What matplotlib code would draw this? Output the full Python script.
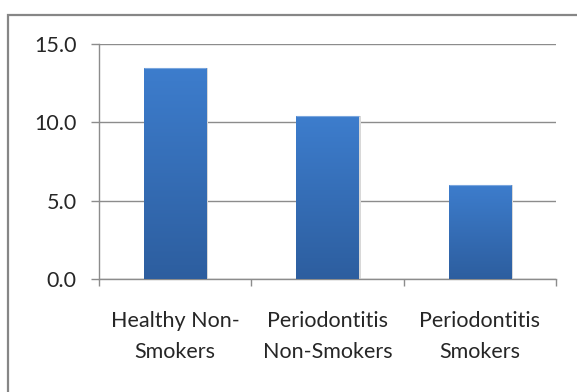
import matplotlib
matplotlib.use("Agg")
import matplotlib.pyplot as plt
import numpy as np
from matplotlib.patches import Rectangle
from matplotlib.colors import LinearSegmentedColormap

categories = ["Healthy Non-\nSmokers", "Periodontitis\nNon-Smokers", "Periodontitis\nSmokers"]
values = [13.5, 10.4, 6.0]
yticks = [0, 5, 10, 15]
ytick_labels = ["0.0", "5.0", "10.0", "15.0"]

plt.rcParams['font.family'] = ['Lato', 'DejaVu Sans']

fig = plt.figure(figsize=(5.77, 3.92), dpi=100)
fig.patch.set_facecolor('white')

# outer border (chart area)
fig.patches.append(Rectangle((8/577, -0.05), 1.2, 1 - 15/392 + 0.05,
                             transform=fig.transFigure, fill=False,
                             edgecolor='#868686', linewidth=1.6))

ax = fig.add_axes([99/577, 1 - 279/392, 457/577, 235/392])
x = np.arange(len(categories))
bars = ax.bar(x, values, width=0.41, color='#3b78c6', zorder=3)

cmap = LinearSegmentedColormap.from_list('g', ['#2d5e9f', '#3d7dcd'])
grad = np.linspace(0, 1, 256).reshape(-1, 1)
for b in bars:
    x0, w, h = b.get_x(), b.get_width(), b.get_height()
    im = ax.imshow(grad, extent=[x0, x0 + w, 0, h], origin='lower', cmap=cmap,
                   aspect='auto', zorder=4)
    im.set_clip_path(b)
    # soft shadow
    ax.add_patch(Rectangle((x0 + w, 0), 0.012, h, facecolor='#d8d8d8',
                           edgecolor='none', zorder=2))
    ax.add_patch(Rectangle((x0, h), w, 0.0, edgecolor='#7aa6de', linewidth=0.8,
                           fill=False, zorder=5))

ax.set_xlim(-0.5, len(categories) - 0.5)
ax.set_ylim(0, 15)
ax.set_yticks(yticks)
ax.set_yticklabels(ytick_labels)
ax.set_xticks(x)
ax.set_xticklabels(categories, linespacing=1.7)
ax.set_xticks(np.arange(len(categories) + 1) - 0.5, minor=True)

ax.yaxis.grid(True, color='#8c8c8c', linewidth=1.0, zorder=0)
ax.set_axisbelow(True)

for s in ['top', 'right']:
    ax.spines[s].set_visible(False)
for s in ['left', 'bottom']:
    ax.spines[s].set_color('#8c8c8c')
    ax.spines[s].set_linewidth(1.0)

ax.tick_params(axis='y', length=6, color='#8c8c8c', width=1.0, pad=10,
               labelsize=15.5, labelcolor='#262626')
ax.tick_params(axis='x', which='major', length=0, pad=23, labelsize=15.5,
               labelcolor='#262626')
ax.tick_params(axis='x', which='minor', length=5, color='#8c8c8c', width=1.0)

fig.savefig('out.png', dpi=100, facecolor='white')
